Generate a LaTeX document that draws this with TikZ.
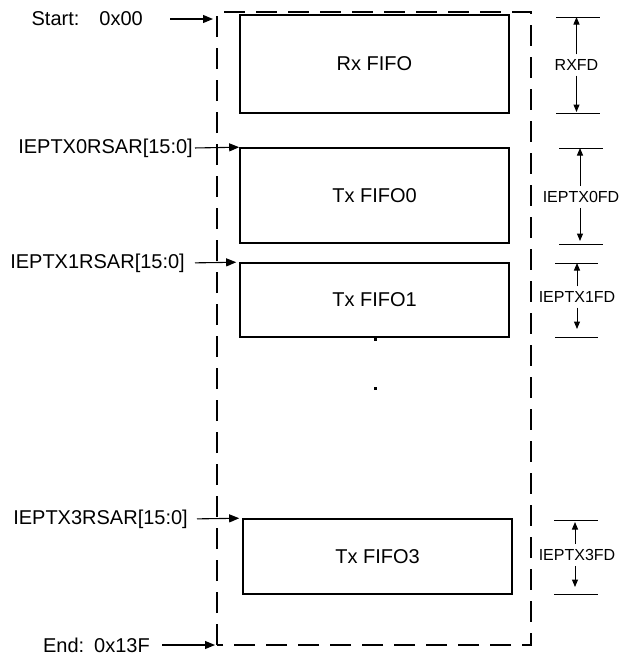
\documentclass[tikz,border=0pt]{standalone}
\usepackage{fontspec}
\setmainfont{Liberation Sans}
\usetikzlibrary{arrows.meta}
\begin{document}
\begin{tikzpicture}[x=1pt,y=-1pt,
  fifo/.style={draw,line width=1.6pt,minimum width=269pt,inner sep=0pt,font=\fontsize{20}{24}\selectfont},
  lbl/.style={inner sep=0pt,font=\fontsize{20}{24}\selectfont,anchor=east},
  dlbl/.style={inner xsep=0pt,inner ysep=5pt,font=\fontsize{16}{19}\selectfont},
  arr/.style={-{Triangle[length=10pt,width=8pt]},line width=1.1pt},
  darr/.style={-{Triangle[length=7.5pt,width=6pt]},line width=1pt},
  tick/.style={line width=1pt},
  memb/.style={draw,line width=1.7pt,dash pattern=on 21pt off 11pt}]
\useasboundingbox (0,0) rectangle (620,657);
% memory region (dashed)
\coordinate (mbl) at (217,645);
\coordinate (mtl) at (217,12);
\coordinate (mtr) at (531,12);
\coordinate (mbr) at (531,645);
\draw[memb] (mbl) -- (mtl) -- (mtr) -- (mbr) -- cycle;
\coordinate (startpt) at (213,19);
\coordinate (endpt) at (215,645);
% FIFO boxes
\node[fifo,minimum height=98pt] (rx) at (374.5,64) {Rx FIFO};
\node[fifo,minimum height=95pt] (tx0) at (374.5,195.5) {Tx FIFO0};
\node[fifo,minimum height=74pt] (tx1) at (374.5,300) {Tx FIFO1};
\node[fifo,minimum height=75pt] (tx3) at (377.5,556.5) {Tx FIFO3};
% dots
\fill (373.5,337.5) rectangle ++(3,3);
\fill (373.5,386.5) rectangle ++(3,3);
% left labels
\node[lbl] (start) at (143,19) {Start:\hspace{1em}0x00};
\node[lbl] (r0) at (193,148) {IEPTX0RSAR[15:0]};
\node[lbl] (r1) at (185,263) {IEPTX1RSAR[15:0]};
\node[lbl] (r3) at (188,519) {IEPTX3RSAR[15:0]};
\node[lbl] (end) at (150,645) {End:\hspace{0.5em}0x13F};
\draw[arr,shorten <=27pt] (start.east) -- (startpt);
\draw[arr,shorten <=2pt] (r0.east) -- (tx0.north west);
\draw[arr,shorten <=10pt,shorten >=3pt] (r1.east) -- (tx1.north west);
\draw[arr,shorten <=9pt,shorten >=3pt] (r3.east) -- (tx3.north west);
\draw[arr,shorten <=12pt] (end.east) -- (endpt);
% right dimension markers
\coordinate (trx) at (576.5,17);  \coordinate (brx) at (576.5,113);
\coordinate (t0) at (580,148);    \coordinate (b0) at (580,244);
\coordinate (t1) at (577,263);    \coordinate (b1) at (577,337);
\coordinate (t3) at (575,520);    \coordinate (b3) at (575,594);
\draw[tick] (556,17) -- (600,17);   \draw[tick] (556,113) -- (600,113);
\draw[tick] (559,148) -- (603,148); \draw[tick] (559,244) -- (603,244);
\draw[tick] (555,263) -- (598,263); \draw[tick] (555,337) -- (598,337);
\draw[tick] (554,520) -- (598,520); \draw[tick] (554,594) -- (598,594);
\node[dlbl] (rxfd) at (576.5,65) {RXFD};
\node[dlbl] (fd0) at (581,197) {IEPTX0FD};
\node[dlbl] (fd1) at (577,297) {IEPTX1FD};
\node[dlbl] (fd3) at (577,555) {IEPTX3FD};
\draw[darr] (rxfd.north -| trx) -- (trx);
\draw[darr,shorten >=1pt] (rxfd.south -| brx) -- (brx);
\draw[darr] (fd0.north -| t0) -- (t0);
\draw[darr,shorten >=3pt] (fd0.south -| b0) -- (b0);
\draw[darr] (fd1.north -| t1) -- (t1);
\draw[darr,shorten >=8pt] (fd1.south -| b1) -- (b1);
\draw[darr,shorten >=2pt] (fd3.north -| t3) -- (t3);
\draw[darr,shorten >=7pt] (fd3.south -| b3) -- (b3);
\end{tikzpicture}
\end{document}
